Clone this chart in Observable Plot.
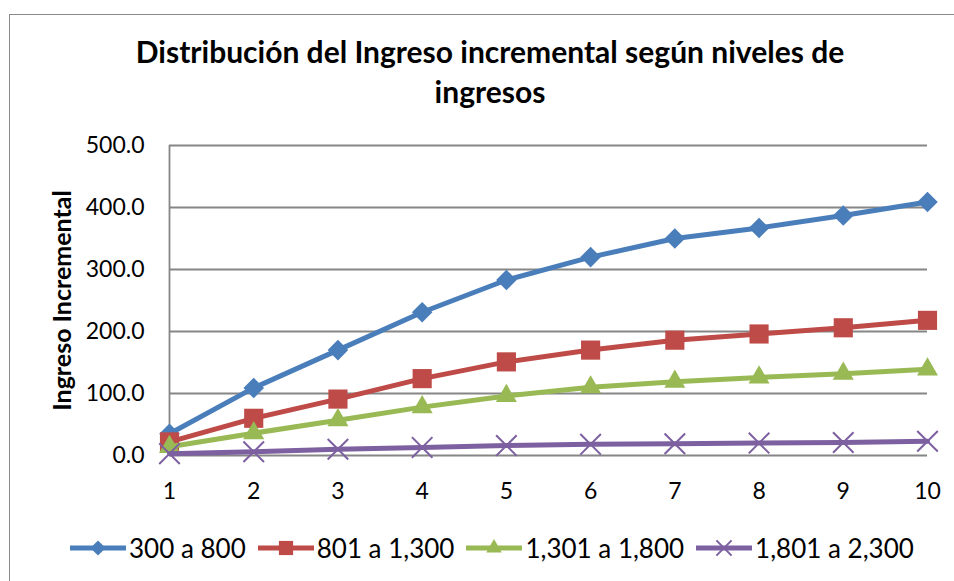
<!DOCTYPE html>
<html><head><meta charset="utf-8">
<script src="https://cdn.jsdelivr.net/npm/d3@7"></script>
<script src="https://cdn.jsdelivr.net/npm/@observablehq/plot@0.6"></script>
<style>
body{margin:0;background:#fff;overflow:hidden;font-family:Lato,sans-serif;}
#wrap{position:relative;width:954px;height:581px;overflow:hidden;background:#fff;}
#border{position:absolute;left:9px;top:14px;width:962px;height:600px;border:1.5px solid #8a8a8a;box-sizing:border-box;}
#chart{position:absolute;left:0;top:0;}
#title{position:absolute;left:9px;top:31px;width:962px;text-align:center;font-weight:bold;font-size:30px;line-height:40px;color:#000;}
#legend{position:absolute;left:70px;top:533px;height:30px;display:flex;align-items:center;font-size:26px;color:#000;}
#legend .item{display:flex;align-items:center;margin-right:12px;}
#legend svg{display:block;margin-right:3px;}
</style>
</head><body>
<div id="wrap">
  <div id="border"></div>
  <div id="chart"></div>
  <div id="title">Distribución del Ingreso incremental según niveles de<br>ingresos</div>
  <div id="legend"></div>
</div>
<script>
const categories = [1, 2, 3, 4, 5, 6, 7, 8, 9, 10];
const seriesNames = ["300 a 800", "801 a 1,300", "1,301 a 1,800", "1,801 a 2,300"];
const s300a800   = [35, 109, 170, 231, 283, 320, 350, 367, 387, 409];
const s801a1300  = [22, 60, 91, 124, 151, 170, 186, 196, 206, 218];
const s1301a1800 = [14, 36, 57, 78, 96, 110, 119, 126, 132, 139];
const s1801a2300 = [3, 6, 10, 13, 16, 18, 19, 20, 21, 23];
const yTicks = [0, 100, 200, 300, 400, 500];
const yLabel = "Ingreso Incremental";

const seriesValues = [s300a800, s801a1300, s1301a1800, s1801a2300];
const colors = ["#4A7EBB", "#BE4B48", "#98B954", "#7D60A0"];
const markers = [
  {symbol: "square", r: 8.2, rotate: 45, fill: true},
  {symbol: "square", r: 10.8, rotate: 0, fill: true},
  {symbol: "triangle", r: 7.8, rotate: 0, fill: true},
  {symbol: "times", r: 9.4, rotate: 0, fill: false}
];

const rows = seriesNames.map((name, i) => categories.map((c, j) => ({series: name, x: c, y: seriesValues[i][j]})));

const marks = [
  Plot.ruleY(yTicks, {stroke: "#868686", strokeWidth: 1.8}),
  Plot.ruleX([1], {y1: 0, y2: 500, stroke: "#868686", strokeWidth: 1.8}),
  Plot.axisY({ticks: yTicks, tickFormat: d3.format(".1f"), tickSize: 0, tickPadding: 25, fontSize: 23, label: null}),
  Plot.axisX({ticks: categories, tickFormat: d => String(d), tickSize: 0, tickPadding: 27, fontSize: 23, label: null}),
  Plot.text([yLabel], {frameAnchor: "left", textAnchor: "middle", lineAnchor: "middle", dx: -107, rotate: -90, fontWeight: "bold", fontSize: 25, fill: "#000"})
];
rows.forEach((data, i) => {
  marks.push(Plot.line(data, {x: "x", y: "y", stroke: colors[i], strokeWidth: 5}));
  const m = markers[i];
  marks.push(Plot.dot(data, m.fill
    ? {x: "x", y: "y", symbol: m.symbol, r: m.r, rotate: m.rotate, fill: colors[i], stroke: "none"}
    : {x: "x", y: "y", symbol: m.symbol, r: m.r, fill: "none", stroke: colors[i], strokeWidth: 2}));
});

const chart = Plot.plot({
  width: 954,
  height: 581,
  marginLeft: 169,
  marginRight: 27,
  marginTop: 145,
  marginBottom: 126,
  style: {fontFamily: "Lato, sans-serif", fontSize: "23px", color: "#000", background: "transparent"},
  x: {type: "linear", domain: [1, 10]},
  y: {domain: [0, 500]},
  marks
});
document.getElementById("chart").appendChild(chart);

// legend
const legend = d3.select("#legend");
seriesNames.forEach((name, i) => {
  const item = legend.append("div").attr("class", "item");
  const svg = item.append("svg").attr("width", 56).attr("height", 24);
  svg.append("line").attr("x1", 0).attr("x2", 56).attr("y1", 12).attr("y2", 12)
    .attr("stroke", colors[i]).attr("stroke-width", 5);
  const m = markers[i];
  const sym = d3.symbol().type({square: d3.symbolSquare, triangle: d3.symbolTriangle, times: d3.symbolTimes}[m.symbol])
    .size(m.r * m.r * Math.PI * 0.55);
  const p = svg.append("path").attr("d", sym()).attr("transform", `translate(28,12) rotate(${m.rotate})`);
  if (m.fill) p.attr("fill", colors[i]); else p.attr("fill", "none").attr("stroke", colors[i]).attr("stroke-width", 2);
  item.append("span").text(name);
});
</script>
</body></html>
